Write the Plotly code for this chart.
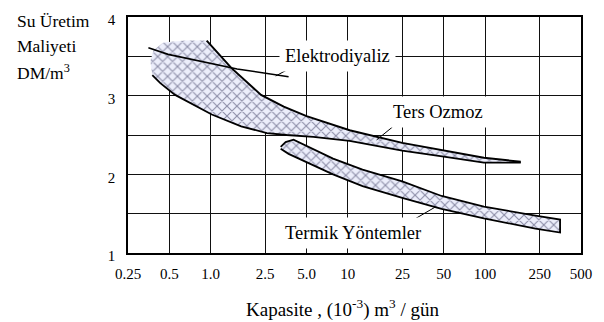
import numpy as np
import plotly.graph_objects as go

# ---- data ----
# Capacity (10^-3 m3/day) and water production cost (DM/m3)
x_tickvals = [0.25, 0.5, 1, 2.5, 5, 10, 25, 50, 100, 250, 500]
x_ticktext = ["0.25", "0.5", "1.0", "2.5", "5.0", "10", "25", "50", "100", "250", "500"]
y_tickvals = [1, 1.5, 2, 2.5, 3, 3.5, 4]
y_ticktext = ["1", "", "2", "", "3", "", "4"]

# Elektrodiyaliz + Ters Ozmoz hatched band
band1_upper_x = [0.376, 0.364, 0.383, 0.452, 0.65, 0.936, 1.42, 2.33, 3.41, 5.0, 10.3, 24.9, 50, 98, 182]
band1_upper_y = [3.26, 3.44, 3.575, 3.675, 3.70, 3.70, 3.35, 3.01, 2.86, 2.74, 2.56, 2.40, 2.30, 2.21, 2.16]
band1_lower_x = [0.376, 0.43, 0.551, 0.706, 1.02, 1.67, 2.57, 3.58, 5.6, 10.3, 24.9, 50, 98, 182]
band1_lower_y = [3.26, 3.16, 3.01, 2.91, 2.76, 2.61, 2.525, 2.50, 2.475, 2.425, 2.30, 2.225, 2.15, 2.15]

# Termik Yöntemler hatched band
termik_upper_x = [3.24, 3.52, 4.02, 5.6, 7.8, 12.8, 24.9, 48.2, 98, 233, 352]
termik_upper_y = [2.35, 2.41, 2.44, 2.325, 2.2, 2.06, 1.91, 1.725, 1.59, 1.475, 1.425]
termik_lower_x = [3.24, 3.70, 5.0, 7.8, 12.8, 24.9, 48.2, 98, 233, 352]
termik_lower_y = [2.325, 2.26, 2.16, 2.0, 1.85, 1.70, 1.56, 1.44, 1.31, 1.26]

# Elektrodiyaliz line
elektro_x = [0.352, 0.49, 1.56, 3.70]
elektro_y = [3.61, 3.525, 3.34, 3.24]

# labels: text, label position, pointer start, pointer end
label_text = ["Elektrodiyaliz", "Ters Ozmoz", "Termik Yöntemler"]
label_x = [8.47, 45.2, 10.9]
label_y = [3.50, 2.79, 1.25]
pointer_x0 = [3.58, 21.1, 29.4]
pointer_y0 = [3.325, 2.60, 1.4125]
pointer_x1 = [2.98, 16.2, 43.7]
pointer_y1 = [3.25, 2.4375, 1.5875]

FONT = "Liberation Serif, Times New Roman, serif"
hatch = dict(shape="x", size=7, solidity=0.3, fgcolor="#2c2c52", bgcolor="#eceefb")

fig = go.Figure()

# band 1 polygon
fig.add_trace(go.Scatter(
    x=band1_upper_x + band1_lower_x[::-1],
    y=band1_upper_y + band1_lower_y[::-1],
    mode="lines", fill="toself", fillcolor="#eceefb", fillpattern=hatch,
    line=dict(width=0), hoverinfo="skip"))
fig.add_trace(go.Scatter(x=band1_upper_x[5:], y=band1_upper_y[5:], mode="lines",
                         line=dict(color="black", width=2), hoverinfo="skip"))
fig.add_trace(go.Scatter(x=band1_lower_x, y=band1_lower_y, mode="lines",
                         line=dict(color="black", width=1.8), hoverinfo="skip"))

# termik polygon
fig.add_trace(go.Scatter(
    x=termik_upper_x + termik_lower_x[::-1],
    y=termik_upper_y + termik_lower_y[::-1],
    mode="lines", fill="toself", fillcolor="#eceefb", fillpattern=hatch,
    line=dict(color="black", width=1.8), hoverinfo="skip"))

# elektrodiyaliz line
fig.add_trace(go.Scatter(x=elektro_x, y=elektro_y, mode="lines",
                         line=dict(color="black", width=1.6), hoverinfo="skip"))

# pointers
for i in range(len(label_text)):
    fig.add_trace(go.Scatter(x=[pointer_x0[i], pointer_x1[i]], y=[pointer_y0[i], pointer_y1[i]],
                             mode="lines", line=dict(color="black", width=1), hoverinfo="skip"))

annotations = []
for i in range(len(label_text)):
    annotations.append(dict(
        x=np.log10(label_x[i]), y=label_y[i], xref="x", yref="y", text=label_text[i],
        showarrow=False, bgcolor="white", borderpad=5,
        font=dict(family=FONT, size=18.5, color="black")))

# y-axis title (three lines, top-left)
ytitle_lines = ["Su Üretim", "Maliyeti", "DM/m<sup>3</sup>"]
ytitle_pos = [0.985, 0.877, 0.765]
for t, yp in zip(ytitle_lines, ytitle_pos):
    annotations.append(dict(x=-0.25, y=yp, xref="paper", yref="paper", xanchor="left",
                            yanchor="middle", text=t, showarrow=False,
                            font=dict(family=FONT, size=17.5, color="black")))

# x-axis title
annotations.append(dict(x=0.474, y=-0.237, xref="paper", yref="paper", xanchor="center",
                        yanchor="middle", showarrow=False,
                        text="Kapasite , (10<sup>-3</sup>) m<sup>3</sup> / gün",
                        font=dict(family=FONT, size=19, color="black")))

fig.update_layout(
    width=604, height=322,
    margin=dict(l=128, r=16, t=13, b=69),
    plot_bgcolor="white", paper_bgcolor="white",
    showlegend=False,
    font=dict(family=FONT, color="black"),
    annotations=annotations,
    xaxis=dict(type="log", range=[np.log10(0.25), np.log10(500)],
               tickvals=x_tickvals, ticktext=x_ticktext,
               showgrid=True, gridcolor="#111111", gridwidth=1.4,
               showline=True, mirror=True, linecolor="black", linewidth=1.6,
               ticks="", ticklabelstandoff=6, zeroline=False,
               tickfont=dict(family=FONT, size=15, color="black")),
    yaxis=dict(range=[1, 4], tickvals=y_tickvals, ticktext=y_ticktext,
               showgrid=True, gridcolor="#111111", gridwidth=1.4,
               showline=True, mirror=True, linecolor="black", linewidth=1.6,
               ticks="", ticklabelstandoff=8, ticklabelshift=3, zeroline=False,
               tickfont=dict(family=FONT, size=15, color="black")),
)

fig.write_html("out.html")
